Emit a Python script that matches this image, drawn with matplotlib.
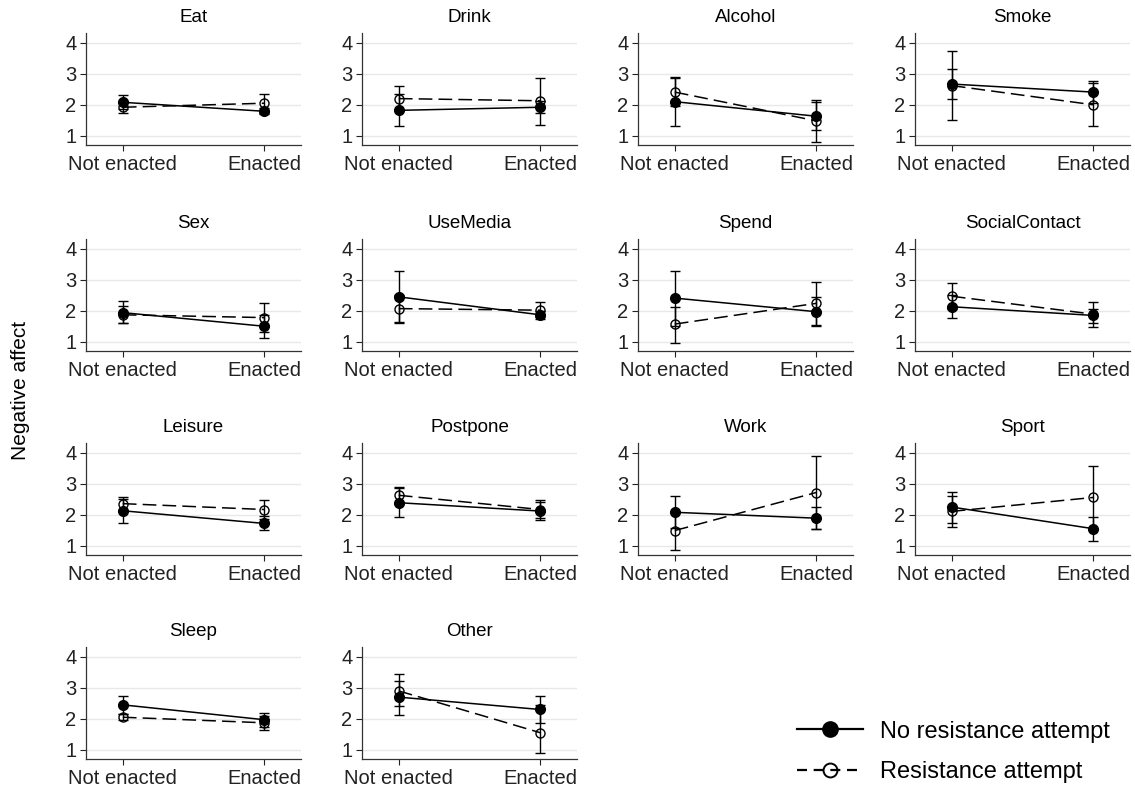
import numpy as np
import matplotlib
matplotlib.use("Agg")
import matplotlib.pyplot as plt
from matplotlib.lines import Line2D

plt.rcParams['font.family'] = ['Liberation Sans', 'DejaVu Sans']

activities = ["Eat", "Drink", "Alcohol", "Smoke", "Sex", "UseMedia", "Spend",
              "SocialContact", "Leisure", "Postpone", "Work", "Sport", "Sleep", "Other"]
conditions = ["Not enacted", "Enacted"]

# no resistance attempt: (not enacted, enacted)
nr_mean = [(2.08, 1.79), (1.82, 1.92), (2.10, 1.63), (2.67, 2.41), (1.94, 1.50), (2.45, 1.87), (2.41, 1.97),
           (2.13, 1.85), (2.13, 1.72), (2.39, 2.12), (2.08, 1.89), (2.25, 1.55), (2.45, 1.97), (2.70, 2.30)]
nr_lo = [(1.85, 1.70), (1.30, 1.72), (1.32, 1.20), (1.52, 2.05), (1.60, 1.13), (1.60, 1.75), (1.52, 1.50),
         (1.77, 1.47), (1.74, 1.51), (1.92, 1.82), (1.58, 1.54), (1.72, 1.15), (2.15, 1.75), (2.12, 1.85)]
nr_hi = [(2.30, 1.88), (2.35, 2.12), (2.86, 2.08), (3.75, 2.78), (2.15, 1.87), (3.30, 2.00), (3.29, 2.45),
         (2.50, 2.05), (2.52, 1.95), (2.85, 2.40), (2.60, 2.26), (2.74, 1.94), (2.75, 2.20), (3.22, 2.75)]

# resistance attempt
r_mean = [(1.92, 2.05), (2.20, 2.13), (2.41, 1.48), (2.62, 2.00), (1.87, 1.78), (2.07, 2.02), (1.57, 2.24),
          (2.47, 1.89), (2.36, 2.17), (2.63, 2.17), (1.49, 2.72), (2.11, 2.56), (2.05, 1.87), (2.90, 1.55)]
r_lo = [(1.72, 1.75), (1.80, 1.36), (1.95, 0.80), (2.20, 1.32), (1.62, 1.31), (1.65, 1.80), (0.97, 1.55),
        (2.05, 1.60), (2.15, 1.85), (2.36, 1.88), (0.87, 1.55), (1.62, 1.55), (1.95, 1.65), (2.40, 0.88)]
r_hi = [(2.12, 2.36), (2.62, 2.87), (2.89, 2.16), (3.17, 2.72), (2.30, 2.24), (2.50, 2.27), (2.13, 2.93),
        (2.90, 2.27), (2.58, 2.49), (2.89, 2.49), (2.10, 3.91), (2.62, 3.57), (2.15, 2.10), (3.45, 2.45)]

W, H = 1135, 785
fig = plt.figure(figsize=(W / 100, H / 100), dpi=100)

col_left = [86, 362, 638, 915]
row_top = [33, 239, 443, 647]
ax_w, ax_h = 215, 112

x = np.arange(len(conditions))
for i, name in enumerate(activities):
    r, c = divmod(i, 4)
    ax = fig.add_axes([col_left[c] / W, 1 - (row_top[r] + ax_h) / H, ax_w / W, ax_h / H])
    for yv in [1, 2, 3, 4]:
        ax.axhline(yv, color='#e8e8e8', lw=1, zorder=0)

    m = np.array(nr_mean[i]); lo = np.array(nr_lo[i]); hi = np.array(nr_hi[i])
    ax.errorbar(x, m, yerr=[m - lo, hi - m], fmt='none', ecolor='black', elinewidth=1, capsize=3.5, capthick=1)
    ax.plot(x, m, '-', color='black', lw=1.1, marker='o', ms=7, mfc='black', mec='black')

    m = np.array(r_mean[i]); lo = np.array(r_lo[i]); hi = np.array(r_hi[i])
    ax.errorbar(x, m, yerr=[m - lo, hi - m], fmt='none', ecolor='black', elinewidth=1, capsize=3.5, capthick=1)
    ax.plot(x, m, color='black', lw=1.1, dashes=(9, 4), marker='o', ms=6.5, mfc='none', mec='black', mew=1)

    ax.set_xlim(-0.26, 1.26)
    ax.set_ylim(0.7, 4.32)
    ax.set_yticks([1, 2, 3, 4])
    ax.set_xticks(x)
    ax.set_xticklabels(conditions)
    ax.tick_params(labelsize=14.5, length=4, width=0.8, colors='#222222', pad=3)
    for s in ['top', 'right']:
        ax.spines[s].set_visible(False)
    for s in ['left', 'bottom']:
        ax.spines[s].set_color('#333333')
        ax.spines[s].set_linewidth(0.9)
    ax.set_title(name, fontsize=13.5, pad=8)

fig.text(20 / W, 1 - 390 / H, "Negative affect", rotation=90, ha='center', va='center', fontsize=15)

handles = [
    Line2D([], [], color='black', lw=1.6, marker='o', ms=11, mfc='black', mec='black'),
    Line2D([], [], color='black', lw=1.6, dashes=(4.5, 3), marker='o', ms=10, mfc='none', mec='black', mew=1.4),
]
fig.legend(handles, ["No resistance attempt", "Resistance attempt"], loc='center left',
           bbox_to_anchor=(776 / W, 1 - 752 / H), frameon=False, fontsize=17,
           handlelength=2.8, labelspacing=0.8, handletextpad=0.7)

fig.savefig("out.png", dpi=100)
